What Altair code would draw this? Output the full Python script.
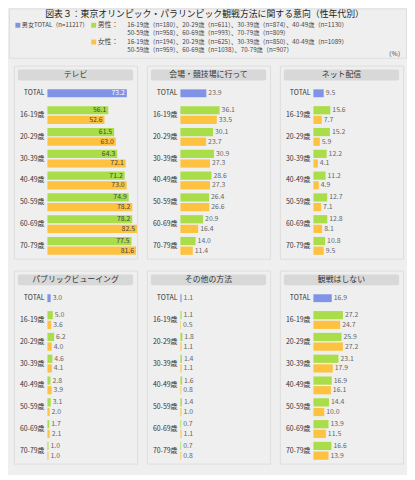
import altair as alt
import pandas as pd

# ---------------- data ----------------
panels = ["テレビ", "会場・競技場に行って", "ネット配信",
          "パブリックビューイング", "その他の方法", "観戦はしない"]
rows = ["TOTAL", "16-19歳", "20-29歳", "30-39歳", "40-49歳", "50-59歳", "60-69歳", "70-79歳"]
ages = rows[1:]
sexes = ["男性", "女性"]

total_vals = [73.2, 23.9, 9.5, 3.0, 1.1, 16.9]
male_vals = [
    [56.1, 61.5, 64.3, 71.2, 74.9, 78.2, 77.5],
    [36.1, 30.1, 30.9, 28.6, 26.4, 20.9, 14.0],
    [15.6, 15.2, 12.2, 11.2, 12.7, 12.8, 10.8],
    [5.0, 6.2, 4.6, 2.8, 3.1, 1.7, 1.0],
    [1.1, 1.8, 1.4, 1.6, 1.4, 0.7, 0.7],
    [27.2, 25.9, 23.1, 16.9, 14.4, 13.9, 16.6],
]
female_vals = [
    [52.6, 63.0, 72.1, 73.0, 78.2, 82.5, 81.6],
    [33.5, 23.7, 27.3, 27.3, 26.6, 16.4, 11.4],
    [7.7, 5.9, 4.1, 4.9, 7.1, 8.1, 9.5],
    [3.6, 4.0, 4.1, 3.9, 2.0, 2.1, 1.0],
    [0.5, 1.1, 1.1, 0.8, 1.0, 1.1, 0.8],
    [24.7, 27.2, 17.9, 16.1, 10.0, 11.5, 13.9],
]

title_text = "図表３：東京オリンピック・パラリンピック観戦方法に関する意向（性年代別）"
legend_total = "男女TOTAL（n=11217）"
legend_male_head = "男性："
legend_male_1 = "16-19歳（n=180）、20-29歳（n=611）、30-39歳（n=874）、40-49歳（n=1130）"
legend_male_2 = "50-59歳（n=958）、60-69歳（n=993）、70-79歳（n=809）"
legend_female_head = "女性："
legend_female_1 = "16-19歳（n=194）、20-29歳（n=625）、30-39歳（n=850）、40-49歳（n=1089）"
legend_female_2 = "50-59歳（n=959）、60-69歳（n=1038）、70-79歳（n=907）"
unit_label = "（%）"

# ---------------- style ----------------
BLUE = "#8193e6"
GREEN = "#a9de4a"
ORANGE = "#fdc23f"
BG = "#efefef"
FONT = "Noto Sans CJK JP"
PW, PH = 125, 196

xscale = alt.Scale(domain=[0, 82.6], range=[34, 125], nice=False, zero=True)
yscale = alt.Scale(domain=rows, range=[17, 194], paddingInner=0.18, paddingOuter=0.09)
offscale = alt.Scale(domain=sexes, paddingInner=0.15, paddingOuter=0)
colscale = alt.Scale(domain=sexes, range=[GREEN, ORANGE])


def txt(s, x, y, size, color="#444", align="left", weight="normal"):
    return alt.Chart(pd.DataFrame({"t": [s]})).mark_text(
        font=FONT, fontSize=size, color=color, align=align, baseline="middle",
        fontWeight=weight
    ).encode(text="t:N", x=alt.value(x), y=alt.value(y))


def square(x, y, color):
    return alt.Chart(pd.DataFrame({"t": [0]})).mark_rect(color=color).encode(
        x=alt.value(x - 2.5), x2=alt.value(x + 2.5),
        y=alt.value(y - 2.5), y2=alt.value(y + 2.5))


def panel(i):
    inside = (i == 0)
    d = pd.DataFrame({
        "row": ages * 2,
        "sex": [sexes[0]] * len(ages) + [sexes[1]] * len(ages),
        "value": male_vals[i] + female_vals[i],
    })
    t = pd.DataFrame({"row": [rows[0]], "value": [total_vals[i]]})
    lab = pd.DataFrame({"row": rows})
    hdr = pd.DataFrame({"title": [panels[i]]})

    head_rect = alt.Chart(hdr).mark_rect(color="#d8d8d8", cornerRadius=2).encode(
        x=alt.value(4), x2=alt.value(121), y=alt.value(4), y2=alt.value(15))
    head_text = alt.Chart(hdr).mark_text(
        font=FONT, fontSize=8, color="#333", baseline="middle", align="center").encode(
        x=alt.value(62.5), y=alt.value(9.8), text="title:N")
    row_text = alt.Chart(lab).mark_text(
        font=FONT, fontSize=7, color="#333", align="right", baseline="middle").encode(
        x=alt.value(31), y=alt.Y("row:N", scale=yscale, axis=None), text="row:N")

    X = alt.X("value:Q", scale=xscale, axis=None)
    Y = alt.Y("row:N", scale=yscale, axis=None)
    YO = alt.YOffset("sex:N", scale=offscale)

    tbar = alt.Chart(t).mark_bar(size=8, color=BLUE).encode(x=X, y=Y)
    sbar = alt.Chart(d).mark_bar().encode(
        x=X, y=Y, yOffset=YO,
        color=alt.Color("sex:N", scale=colscale, legend=None))

    if inside:
        tt = alt.Chart(t).mark_text(font=FONT, fontSize=7, color="white", align="right",
                                    dx=-2, baseline="middle")
        st = alt.Chart(d).mark_text(font=FONT, fontSize=7, color="#444", align="right",
                                    dx=-2, baseline="middle")
    else:
        tt = alt.Chart(t).mark_text(font=FONT, fontSize=7, color="#666", align="left",
                                    dx=2, baseline="middle")
        st = alt.Chart(d).mark_text(font=FONT, fontSize=7, color="#666", align="left",
                                    dx=2, baseline="middle")
    ttext = tt.encode(x=X, y=Y, text=alt.Text("value:Q", format=".1f"))
    stext = st.encode(x=X, y=Y, yOffset=YO, text=alt.Text("value:Q", format=".1f"))

    return alt.layer(head_rect, head_text, row_text, tbar, sbar, ttext, stext).properties(
        width=PW, height=PH)


header = alt.layer(
    txt(title_text, 198.5, 6, 9, color="#222", align="center"),
    square(9, 17, BLUE),
    txt(legend_total, 13, 17, 6.2),
    square(86, 17, GREEN),
    txt(legend_male_head, 90, 17, 7),
    txt(legend_male_1, 120, 17, 6.3),
    txt(legend_male_2, 120, 25, 6.3),
    square(86, 34, ORANGE),
    txt(legend_female_head, 90, 34, 7),
    txt(legend_female_1, 120, 34, 6.3),
    txt(legend_female_2, 120, 42, 6.3),
    txt(unit_label, 401, 46, 6.5, align="right"),
).properties(width=403, height=50)

spacer = alt.Chart(pd.DataFrame({"a": [0]})).mark_rect(color=BG).encode(
    x=alt.value(0), x2=alt.value(1), y=alt.value(0), y2=alt.value(1)
).properties(width=1, height=1, view=alt.ViewBackground(fill=BG, strokeWidth=0))

grid = alt.vconcat(
    alt.hconcat(panel(0), panel(1), panel(2), spacing=8),
    alt.hconcat(panel(3), panel(4), panel(5), spacing=8),
    spacing=10,
)

chart = alt.vconcat(
    header,
    alt.hconcat(spacer, grid, spacing=3),
    spacing=6,
).properties(
    background=BG,
    padding={"left": 0, "top": -4, "right": 0, "bottom": 7},
).configure_view(fill="white", strokeWidth=0).configure(font=FONT)

chart.save("out.html", embed_options={"renderer": "svg", "actions": False})
